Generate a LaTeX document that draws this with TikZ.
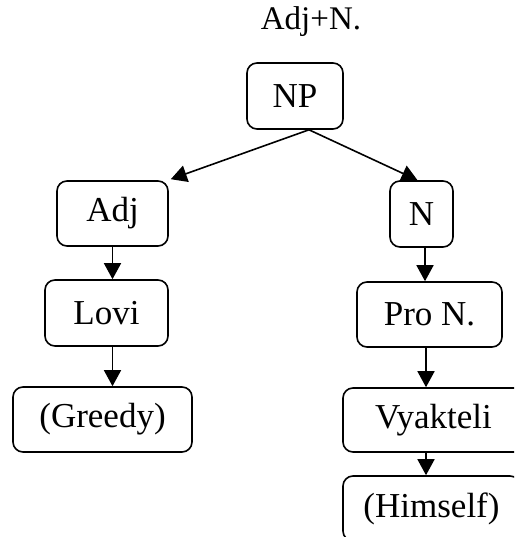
\documentclass[tikz,border=0pt]{standalone}
\usepackage{fontspec}
\setmainfont{Liberation Serif}
\usetikzlibrary{arrows.meta,calc}
\begin{document}
\begin{tikzpicture}[x=1pt,y=1pt,
  box/.style={draw,line width=1.6pt,rounded corners=10pt,inner sep=0pt,
    font=\fontsize{35}{40}\selectfont},
  arr/.style={line width=1.6pt,-{Triangle[length=16pt,width=17pt]}}]
\useasboundingbox (0,0) rectangle (514,537);
\clip (0,0) rectangle (514,537);
\node[font=\fontsize{33}{38}\selectfont] (title) at (311,515) {Adj+N.};
\node[box,minimum width=96pt,minimum height=66pt] (np) at (295,441) {NP};
\node[box,minimum width=111pt,minimum height=65pt] (adj) at (112.5,323.5) {Adj};
\node[box,minimum width=123pt,minimum height=66pt] (lovi) at (106.5,224) {Lovi};
\node[box,minimum width=179pt,minimum height=65pt] (greedy) at (102.5,117.5) {(Greedy)};
\node[box,minimum width=63pt,minimum height=66pt] (n) at (421.5,323) {N};
\node[box,minimum width=145pt,minimum height=65pt] (pron) at (429.5,222.5) {Pro N.};
\node[box,minimum width=181pt,minimum height=64pt] (vyak) at (433.5,117) {Vyakteli};
\node[box,minimum width=177pt,minimum height=65pt] (himself) at (431.5,28.5) {(Himself)};
% feet of the connectors
\coordinate (npfoot) at ($(np.south)+(14,0)$);
\coordinate (adjtip) at ($(adj.north east)+(2,1)$);
\coordinate (ntip) at ($(n.north)+(-4,0)$);
\coordinate (lovifoot) at ($(lovi.south)+(6,0)$);
\coordinate (nfoot) at ($(n.south)+(3.5,0)$);
\coordinate (pronfoot) at ($(pron.south)+(-3.5,0)$);
\coordinate (vyakfoot) at ($(vyak.south)+(-7.5,0)$);
\draw[arr] (npfoot) -- (adjtip);
\draw[arr] (npfoot) -- (ntip);
\draw[arr] (adj.south) -- (adj.south |- lovi.north);
\draw[arr] (lovifoot) -- (lovifoot |- greedy.north);
\draw[arr] (nfoot) -- (nfoot |- pron.north);
\draw[arr] (pronfoot) -- (pronfoot |- vyak.north);
\draw[arr] (vyakfoot) -- (vyakfoot |- himself.north);
\end{tikzpicture}
\end{document}
